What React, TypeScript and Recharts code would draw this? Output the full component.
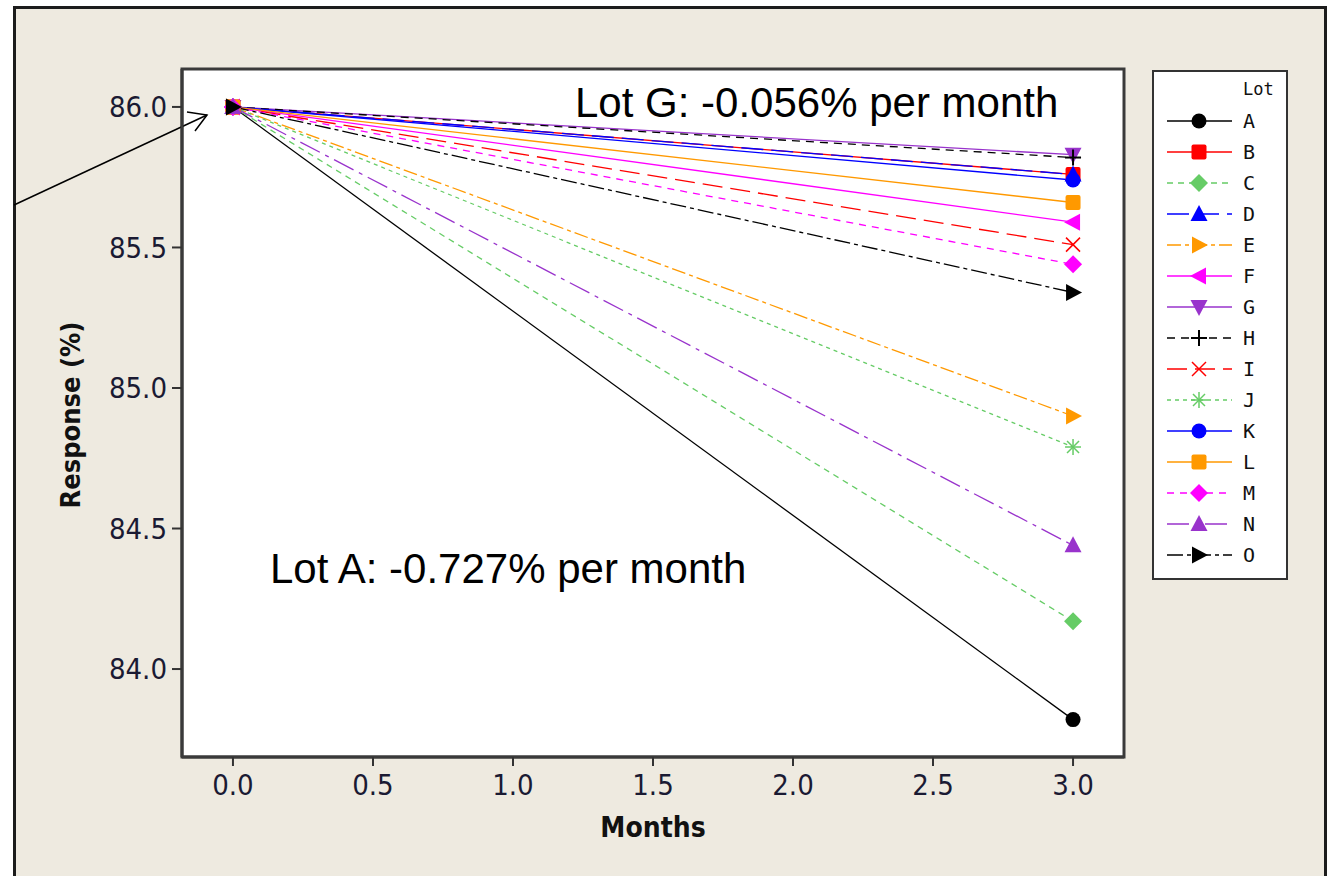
import React from 'react';
import { LineChart, Line, XAxis, YAxis, CartesianGrid, Customized } from 'recharts';

// lots and their fitted responses at 0 and 3 months
const lots = ['A', 'B', 'C', 'D', 'E', 'F', 'G', 'H', 'I', 'J', 'K', 'L', 'M', 'N', 'O'];
const months = [0, 3];
const startResponse = [86, 86, 86, 86, 86, 86, 86, 86, 86, 86, 86, 86, 86, 86, 86];
const endResponse = [83.82, 85.76, 84.17, 85.76, 84.9, 85.59, 85.83, 85.82, 85.51, 84.79, 85.74, 85.66, 85.44, 84.44, 85.34];

const xTicks = [0, 0.5, 1, 1.5, 2, 2.5, 3];
const yTicks = [84, 84.5, 85, 85.5, 86];

const lotColors = ['#000000', '#FF0000', '#66CC66', '#0000FF', '#FF9900', '#FF00FF', '#9933CC', '#000000', '#FF0000', '#66CC66', '#0000FF', '#FF9900', '#FF00FF', '#9933CC', '#000000'];
const lotDash = [undefined, undefined, '6 5', '22 8', '14 4 4 4', undefined, undefined, '8 6', '20 8', '4 4', undefined, undefined, '7 6', '22 6 4 6', '16 4 4 4'];
const lotShape = ['circle', 'square', 'diamond', 'triUp', 'triRight', 'triLeft', 'triDown', 'plus', 'cross', 'asterisk', 'circle', 'square', 'diamond', 'triUp', 'triRight'];

const tableData = months.map((m, i) => {
  const row: Record<string, number> = { month: m };
  lots.forEach((lot, j) => {
    row[lot] = i === 0 ? startResponse[j] : endResponse[j];
  });
  return row;
});

const tickFont = "'DejaVu Sans Condensed', 'DejaVu Sans', sans-serif";

function Marker({ shape, x, y, color }: { shape: string; x: number; y: number; color: string }) {
  switch (shape) {
    case 'circle':
      return <circle cx={x} cy={y} r={7.5} fill={color} />;
    case 'square':
      return <rect x={x - 7.5} y={y - 7.5} width={15} height={15} rx={2} fill={color} />;
    case 'diamond':
      return <polygon points={`${x},${y - 9} ${x + 9},${y} ${x},${y + 9} ${x - 9},${y}`} fill={color} />;
    case 'triUp':
      return <polygon points={`${x},${y - 9} ${x + 8.5},${y + 7} ${x - 8.5},${y + 7}`} fill={color} />;
    case 'triDown':
      return <polygon points={`${x - 8.5},${y - 7} ${x + 8.5},${y - 7} ${x},${y + 9}`} fill={color} />;
    case 'triRight':
      return <polygon points={`${x - 7},${y - 8.5} ${x + 9},${y} ${x - 7},${y + 8.5}`} fill={color} />;
    case 'triLeft':
      return <polygon points={`${x + 7},${y - 8.5} ${x - 9},${y} ${x + 7},${y + 8.5}`} fill={color} />;
    case 'plus':
      return (
        <g stroke={color} strokeWidth={2}>
          <line x1={x - 8} y1={y} x2={x + 8} y2={y} />
          <line x1={x} y1={y - 8} x2={x} y2={y + 8} />
        </g>
      );
    case 'cross':
      return (
        <g stroke={color} strokeWidth={1.5}>
          <line x1={x - 7} y1={y - 7} x2={x + 7} y2={y + 7} />
          <line x1={x - 7} y1={y + 7} x2={x + 7} y2={y - 7} />
        </g>
      );
    default:
      return (
        <g stroke={color} strokeWidth={1.5}>
          <line x1={x - 8} y1={y} x2={x + 8} y2={y} />
          <line x1={x} y1={y - 8} x2={x} y2={y + 8} />
          <line x1={x - 6} y1={y - 6} x2={x + 6} y2={y + 6} />
          <line x1={x - 6} y1={y + 6} x2={x + 6} y2={y - 6} />
        </g>
      );
  }
}

const Overlay = () => (
  <g>
    {/* plot frame */}
    <rect x={182} y={69} width={942} height={688} fill="none" stroke="#3a3a3a" strokeWidth={3} />

    {/* axis titles */}
    <text x={70} y={415} transform="rotate(-90, 70, 415)" textAnchor="middle" dominantBaseline="central"
      fontFamily={tickFont} fontWeight="bold" fontSize={27} fill="#111">Response (%)</text>
    <text x={653} y={837} textAnchor="middle" fontFamily={tickFont} fontWeight="bold" fontSize={28} fill="#111">Months</text>

    {/* slope notes */}
    <text x={575} y={117} fontFamily="'Liberation Sans', Arial, sans-serif" fontSize={42} fill="#000">Lot G: -0.056% per month</text>
    <text x={270} y={583} fontFamily="'Liberation Sans', Arial, sans-serif" fontSize={42} fill="#000">Lot A: -0.727% per month</text>

    {/* arrow to common start */}
    <g stroke="#000" strokeWidth={1.5} fill="none">
      <line x1={14} y1={205} x2={207} y2={115} />
      <polyline points="187,112 207,115 195,131" />
    </g>

    {/* legend */}
    <rect x={1153} y={71} width={134} height={508} fill="#fff" stroke="#333" strokeWidth={2} />
    <text x={1243} y={95} fontFamily="'DejaVu Sans Mono', monospace" fontSize={17} fill="#111">Lot</text>
    {lots.map((lot, i) => {
      const y = 121 + i * 31;
      return (
        <g key={lot}>
          <line x1={1167} y1={y} x2={1232} y2={y} stroke={lotColors[i]} strokeWidth={1.5} strokeDasharray={lotDash[i]} />
          <Marker shape={lotShape[i]} x={1199} y={y} color={lotColors[i]} />
          <text x={1243} y={y + 7} fontFamily="'DejaVu Sans Mono', monospace" fontSize={20} fill="#111">{lot}</text>
        </g>
      );
    })}
  </g>
);

export default function App() {
  return (
    <div style={{ position: 'absolute', left: 0, top: 0, width: 1327, height: 876, background: '#fff', overflow: 'hidden' }}>
      <div style={{ position: 'absolute', left: 13, top: 6, width: 1308, height: 900, border: '3px solid #1c1c1c', background: '#EEEAE0' }} />
      <div style={{ position: 'absolute', left: 0, top: 0 }}>
        <LineChart width={1327} height={876} data={tableData} margin={{ top: 69, right: 203, bottom: 0, left: 0 }}>
          <CartesianGrid fill="#ffffff" horizontal={false} vertical={false} />
          <XAxis
            dataKey="month"
            type="number"
            domain={[-0.182, 3.182]}
            ticks={xTicks}
            allowDataOverflow
            height={119}
            tickSize={9}
            tickMargin={8}
            tickFormatter={(v: number) => v.toFixed(1)}
            tick={{ fontFamily: tickFont, fontSize: 29, fill: '#1a1a33' }}
            tickLine={{ stroke: '#333', strokeWidth: 2 }}
            axisLine={{ stroke: '#3a3a3a', strokeWidth: 3 }}
          />
          <YAxis
            type="number"
            domain={[83.687, 86.135]}
            ticks={yTicks}
            allowDataOverflow
            width={182}
            tickSize={10}
            tickMargin={5}
            tickFormatter={(v: number) => v.toFixed(1)}
            tick={{ fontFamily: tickFont, fontSize: 29, fill: '#1a1a33' }}
            tickLine={{ stroke: '#333', strokeWidth: 2 }}
            axisLine={{ stroke: '#3a3a3a', strokeWidth: 3 }}
          />
          {lots.map((lot, i) => (
            <Line
              key={lot}
              type="linear"
              dataKey={lot}
              stroke={lotColors[i]}
              strokeWidth={1.3}
              strokeDasharray={lotDash[i]}
              isAnimationActive={false}
              dot={(p: any) => <Marker key={`${lot}-${p.index}`} shape={lotShape[i]} x={p.cx} y={p.cy} color={lotColors[i]} />}
              activeDot={false}
            />
          ))}
          <Customized component={Overlay} />
        </LineChart>
      </div>
    </div>
  );
}
